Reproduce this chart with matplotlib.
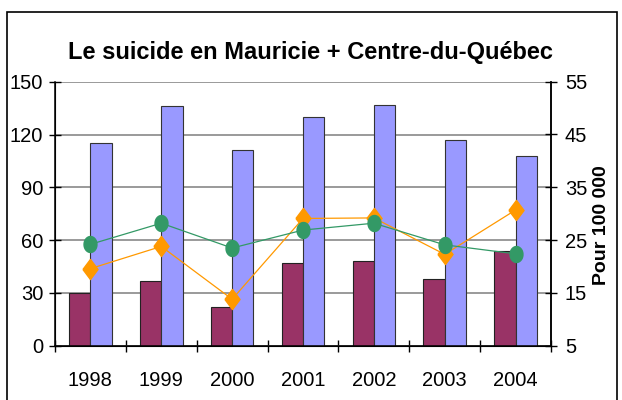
import numpy as np
import matplotlib
matplotlib.use('Agg')
import matplotlib.pyplot as plt
from matplotlib.patches import Rectangle

plt.rcParams['font.family'] = ['Liberation Sans', 'DejaVu Sans']

# ---------- data ----------
years = ['1998', '1999', '2000', '2001', '2002', '2003', '2004']
bars_maroon = [30, 37, 22, 47, 48, 38, 54]
bars_lavender = [115, 136, 111, 130, 137, 117, 108]
rate_orange = [19.6, 23.8, 13.8, 29.1, 29.2, 22.3, 30.7]
rate_green = [24.2, 28.2, 23.5, 26.9, 28.2, 24.1, 22.4]

left_ticks = [0, 30, 60, 90, 120, 150]
right_ticks = [5, 15, 25, 35, 45, 55]

W, H = 622, 400
fig = plt.figure(figsize=(W / 100, H / 100), dpi=100)

# outer chart frame (bottom runs off the picture)
fig.patches.append(Rectangle((7 / W, -0.05), 610 / W, 1.05 - 12 / H,
                             transform=fig.transFigure, fill=False,
                             edgecolor='black', lw=1.2))

ax = fig.add_axes([55 / W, 1 - 345.7 / H, 496 / W, 264 / H])
x = np.arange(len(years))
w = 0.3

ax.set_axisbelow(True)
ax.yaxis.grid(True, color='#7f7f7f', lw=1.1)
ax.bar(x - w / 2, bars_maroon, width=w, color='#993366', edgecolor='#222222', lw=0.8, zorder=2)
ax.bar(x + w / 2, bars_lavender, width=w, color='#9999ff', edgecolor='#333333', lw=0.8, zorder=2)

ax.set_xlim(-0.5, len(years) - 0.5)
ax.set_ylim(0, 150)
ax.set_yticks(left_ticks)
ax.set_xticks(x)
ax.set_xticklabels(years)
ax.set_xticks(np.arange(-0.5, len(years)), minor=True)
ax.tick_params(axis='x', which='major', length=0, pad=18, labelsize=14.5)
ax.tick_params(axis='x', which='minor', direction='inout', length=8, width=1)
ax.tick_params(axis='y', direction='inout', length=9, width=1, pad=4, labelsize=14.5)
ax.spines['top'].set_visible(False)
for s in ['left', 'bottom', 'right']:
    ax.spines[s].set_linewidth(1.1)

# markers in the original are a little taller than wide
diamond = [(-0.75, 0), (0, 1), (0.75, 0), (0, -1), (-0.75, 0)]
t = np.linspace(0, 2 * np.pi, 40)
oval = list(zip(0.81 * np.cos(t), np.sin(t)))

ax2 = ax.twinx()
ax2.set_ylim(5, 55)
ax2.set_yticks(right_ticks)
ax2.plot(x, rate_orange, color='#ff9900', lw=0.9, marker=diamond, ms=14.5, zorder=3)
ax2.plot(x, rate_green, color='#339966', lw=0.9, marker=oval, ms=11.5, zorder=3)
ax2.tick_params(axis='y', direction='inout', length=8, width=1, pad=6, labelsize=14.5)
ax2.spines['top'].set_visible(False)
ax2.spines['right'].set_linewidth(1.1)

fig.text(311 / W, 1 - 59 / H, 'Le suicide en Mauricie + Centre-du-Québec',
         ha='center', va='baseline', fontsize=17, fontweight='bold')
fig.text(602 / W, 1 - 225 / H, 'Pour 100 000', rotation=90,
         ha='center', va='center', fontsize=14, fontweight='bold')

fig.savefig('out.png', dpi=100)
